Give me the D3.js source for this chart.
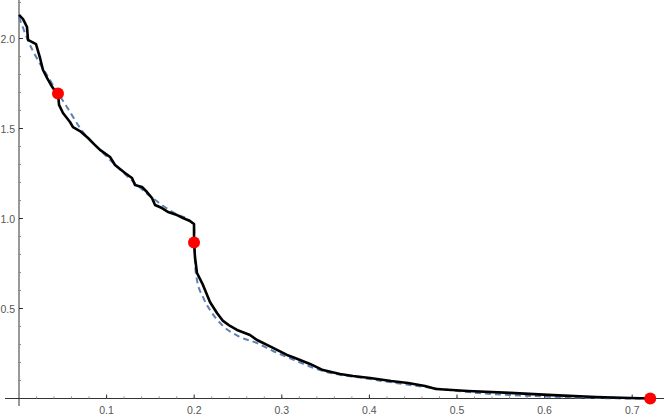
<!DOCTYPE html>
<html>
<head>
<meta charset="utf-8">
<script src="https://cdn.jsdelivr.net/npm/d3@7"></script>
<style>
  body { margin: 0; background: #fff; }
  svg { display: block; }
  .tick-label { font-family: "Liberation Sans", Arial, sans-serif; font-size: 10.5px; fill: #555; }
</style>
</head>
<body>
<div id="chart"></div>
<script>
/*  chart data  */
var empirical = [
  [0, 2.131], [0.0046, 2.108], [0.0091, 2.064], [0.0103, 1.992], [0.0194, 1.969],
  [0.0240, 1.892], [0.0274, 1.825], [0.0320, 1.781], [0.0365, 1.742], [0.0411, 1.708],
  [0.0445, 1.697], [0.0457, 1.631], [0.0502, 1.586], [0.0582, 1.536], [0.0616, 1.508],
  [0.0696, 1.486], [0.0788, 1.447], [0.0868, 1.408], [0.0925, 1.381], [0.1039, 1.342],
  [0.1096, 1.297], [0.1210, 1.253], [0.1290, 1.225], [0.1324, 1.186], [0.1404, 1.175],
  [0.1461, 1.147], [0.1518, 1.114], [0.1553, 1.075], [0.1632, 1.058], [0.1701, 1.036],
  [0.1804, 1.019], [0.1872, 1.003], [0.1952, 0.986], [0.1998, 0.969], [0.1998, 0.869],
  [0.2009, 0.786], [0.2032, 0.697], [0.2100, 0.631], [0.2180, 0.536], [0.2260, 0.475],
  [0.2329, 0.431], [0.2409, 0.403], [0.2489, 0.381], [0.2637, 0.353], [0.2717, 0.325],
  [0.2900, 0.281], [0.3059, 0.242], [0.3151, 0.225], [0.3322, 0.192], [0.3470, 0.158],
  [0.3664, 0.136], [0.3813, 0.125], [0.4007, 0.114], [0.4247, 0.097], [0.4441, 0.086],
  [0.4635, 0.069], [0.4760, 0.053], [0.5126, 0.042], [0.5605, 0.031], [0.6096, 0.019],
  [0.6587, 0.008], [0.6975, 0.003], [0.7215, 0]
];

var fitted = [
  [0, 2.119], [0.0091, 2.003], [0.0354, 1.769], [0.0445, 1.697], [0.0545, 1.621],
  [0.0731, 1.480], [0.0925, 1.381], [0.1210, 1.247], [0.1495, 1.125], [0.1792, 1.025],
  [0.1952, 0.986], [0.1998, 0.958], [0.2009, 0.753], [0.2032, 0.658], [0.2100, 0.564],
  [0.2180, 0.492], [0.2329, 0.403], [0.2523, 0.342], [0.2717, 0.308], [0.2900, 0.264],
  [0.3059, 0.231], [0.3470, 0.153], [0.4007, 0.108], [0.4635, 0.064], [0.5126, 0.036],
  [0.5605, 0.019], [0.6096, 0.010], [0.6587, 0.003], [0.7055, 0], [0.7215, 0]
];

var marked = [[0.0445, 1.694], [0.1998, 0.867], [0.7206, 0]];

var xTicks = [0.1, 0.2, 0.3, 0.4, 0.5, 0.6, 0.7];
var yTicks = [0.5, 1.0, 1.5, 2.0];
var xMinor = d3.range(0.02, 0.75, 0.02);
var yMinor = d3.range(0.1, 2.25, 0.1);

/*  setup  */
var width = 664, height = 417;

var x = d3.scaleLinear().domain([0, 0.7]).range([19, 632.2]);
var y = d3.scaleLinear().domain([0, 2]).range([398.5, 38.5]);

var svg = d3.select("#chart").append("svg")
  .attr("xmlns", "http://www.w3.org/2000/svg")
  .attr("width", width)
  .attr("height", height);

/*  axes, Mathematica style  */
var axes = svg.append("g").attr("stroke", "#333").attr("stroke-width", 1);

axes.append("line")
  .attr("x1", 5).attr("x2", width)
  .attr("y1", y(0)).attr("y2", y(0));
axes.append("line")
  .attr("x1", x(0)).attr("x2", x(0))
  .attr("y1", 0).attr("y2", 406);

axes.selectAll(".xminor").data(xMinor).enter().append("line")
  .attr("x1", function(d){ return x(d); }).attr("x2", function(d){ return x(d); })
  .attr("y1", y(0)).attr("y2", y(0) - 2)
  .attr("stroke", "#888");
axes.selectAll(".xmajor").data(xTicks).enter().append("line")
  .attr("x1", function(d){ return x(d); }).attr("x2", function(d){ return x(d); })
  .attr("y1", y(0)).attr("y2", y(0) - 4);

axes.selectAll(".yminor").data(yMinor).enter().append("line")
  .attr("x1", x(0)).attr("x2", x(0) + 2)
  .attr("y1", function(d){ return y(d); }).attr("y2", function(d){ return y(d); })
  .attr("stroke", "#888");
axes.selectAll(".ymajor").data(yTicks).enter().append("line")
  .attr("x1", x(0)).attr("x2", x(0) + 4)
  .attr("y1", function(d){ return y(d); }).attr("y2", function(d){ return y(d); });

svg.selectAll(".xlab").data(xTicks).enter().append("text")
  .attr("class", "tick-label")
  .attr("x", function(d){ return x(d); })
  .attr("y", 414)
  .attr("text-anchor", "middle")
  .text(function(d){ return d3.format(".1f")(d); });

svg.selectAll(".ylab").data(yTicks).enter().append("text")
  .attr("class", "tick-label")
  .attr("x", 15)
  .attr("y", function(d){ return y(d) + 4; })
  .attr("text-anchor", "end")
  .text(function(d){ return d3.format(".1f")(d); });

/*  curves: dashed fit first, data line on top  */
var line = d3.line()
  .x(function(d){ return x(d[0]); })
  .y(function(d){ return y(d[1]); });

svg.append("path")
  .datum(fitted)
  .attr("d", line.curve(d3.curveMonotoneX))
  .attr("fill", "none")
  .attr("stroke", "#5E81B5")
  .attr("stroke-width", 2)
  .attr("stroke-dasharray", "6,4");

svg.append("path")
  .datum(empirical)
  .attr("d", line.curve(d3.curveLinear))
  .attr("fill", "none")
  .attr("stroke", "#000")
  .attr("stroke-width", 2.6)
  .attr("stroke-linejoin", "round");

svg.selectAll(".dot").data(marked).enter().append("circle")
  .attr("cx", function(d){ return x(d[0]); })
  .attr("cy", function(d){ return y(d[1]); })
  .attr("r", 6)
  .attr("fill", "#FF0000");
</script>
</body>
</html>
